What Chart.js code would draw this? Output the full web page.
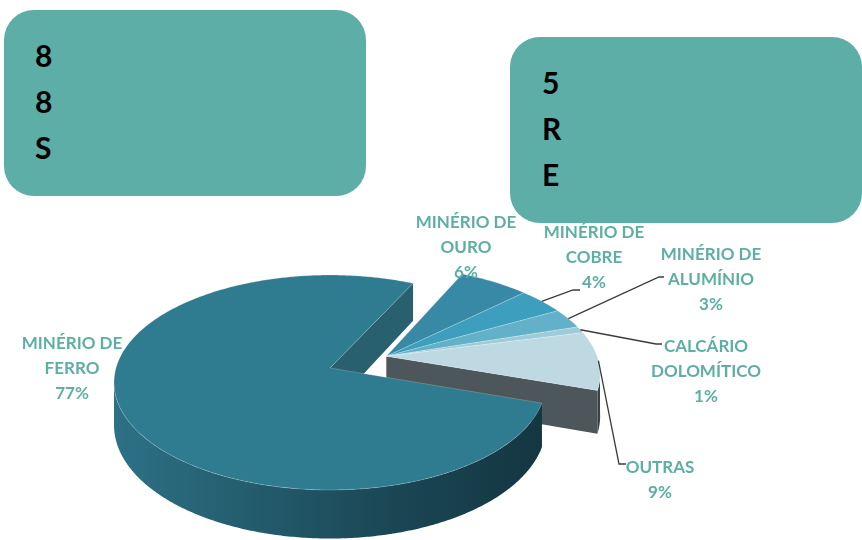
<!DOCTYPE html>
<html>
<head>
<meta charset="utf-8">
<script src="https://cdn.jsdelivr.net/npm/chart.js@4/dist/chart.umd.min.js"></script>
<style>
  html, body { margin: 0; padding: 0; background: #fff; overflow: hidden; }
  #wrap { position: relative; width: 862px; height: 540px; }
  #chart { position: absolute; left: 0; top: 0; }
  .box {
    position: absolute; background: #5daea7; border-radius: 30px; box-sizing: border-box;
    font-family: Lato, "Open Sans", sans-serif; font-weight: 700; font-size: 30px;
    line-height: 46px; color: #000;
  }
  #box1 { left: 4px; top: 10px; width: 362px; height: 186px; padding: 22px 0 0 31px; }
  #box2 { left: 510px; top: 37px; width: 352px; height: 186px; padding: 22px 0 0 32px; }
</style>
</head>
<body>
<div id="wrap">
  <canvas id="chart" width="862" height="540"></canvas>
  <div class="box" id="box1"><div>8</div><div>8</div><div>S</div></div>
  <div class="box" id="box2"><div>5</div><div>R</div><div>E</div></div>
</div>
<script>
// Production share by mineral substance (%)
const categories = [
  ['MINÉRIO DE', 'FERRO'],
  ['MINÉRIO DE', 'OURO'],
  ['MINÉRIO DE', 'COBRE'],
  ['MINÉRIO DE', 'ALUMÍNIO'],
  ['CALCÁRIO', 'DOLOMÍTICO'],
  ['OUTRAS']
];
const shares = [77, 6, 4, 3, 1, 9];

const topColors  = ['#2f7b8f', '#3789a5', '#3d9fbd', '#62b1c9', '#9ecbd9', '#bfd9e3'];
const faceColors = ['#29606f', '#2a6a80', '#2f7a92', '#4a8da1', '#6f98a5', '#4d565b'];
const wallColors = [
  ['#2d7186', '#235b6c', '#1a4553', '#143641'],
  ['#27637a', '#1b4656'],
  ['#2c7088', '#1d4b5b'],
  ['#417f93', '#2a5766'],
  ['#5e8795', '#3d5a64'],
  ['#454e53', '#3b4347']
];

// Tilted, extruded pie drawn from the arc elements computed by Chart.js
const pie3d = {
  id: 'pie3d',
  beforeDatasetsDraw(chart, args, o) {
    const arcs = chart.getDatasetMeta(0).data;
    if (!arcs.length) return false;
    const cx = arcs[0].x, cy = arcs[0].y, R = arcs[0].outerRadius;
    const P = (px, py, z) => {
      const s = 1 / (1 - o.persp * py / R);
      return [cx + px * s, cy + (o.tilt * py + z) * s];
    };
    const idx = arcs.map((a, i) => i);
    const grp = idx.filter(i => o.exploded[i]);
    let gx = 0, gy = 0;
    if (grp.length) {
      const mid = (arcs[grp[0]].startAngle + arcs[grp[grp.length - 1]].endAngle) / 2;
      gx = o.explode * Math.cos(mid);
      gy = o.explode * Math.sin(mid);
    }
    const offsets = idx.map(i => o.exploded[i] ? [gx, gy] : [0, 0]);
    chart.$pie3d = { P, R, offsets };

    const pieces = [
      { idx: idx.filter(i => !o.exploded[i]), dx: 0, dy: 0 },
      { idx: grp, dx: gx, dy: gy }
    ].filter(p => p.idx.length).sort((a, b) => a.dy - b.dy);

    const ctx = chart.ctx;
    const rim = (dx, dy, a, z) => P(dx + R * Math.cos(a), dy + R * Math.sin(a), z);
    const lo = Math.asin(o.persp), hi = Math.PI - lo;
    const TAU = Math.PI * 2;

    ctx.save();
    for (const pc of pieces) {
      const first = pc.idx[0], last = pc.idx[pc.idx.length - 1];
      const a0 = arcs[first].startAngle, a1 = arcs[last].endAngle;

      const face = (a, col) => {
        ctx.beginPath();
        ctx.moveTo(...P(pc.dx, pc.dy, 0));
        ctx.lineTo(...rim(pc.dx, pc.dy, a, 0));
        ctx.lineTo(...rim(pc.dx, pc.dy, a, o.depth));
        ctx.lineTo(...P(pc.dx, pc.dy, o.depth));
        ctx.closePath();
        ctx.fillStyle = col;
        ctx.fill();
      };
      if (Math.sin(a0 - Math.PI / 2) > 0) face(a0, o.faceColors[first]);
      if (Math.sin(a1 + Math.PI / 2) > 0) face(a1, o.faceColors[last]);

      // outer curved walls on the visible front half
      for (const i of pc.idx) {
        const s = arcs[i].startAngle, e = arcs[i].endAngle;
        for (let k = -1; k <= 2; k++) {
          const t0 = Math.max(s, lo + TAU * k), t1 = Math.min(e, hi + TAU * k);
          if (t1 <= t0) continue;
          const n = Math.max(2, Math.ceil((t1 - t0) / 0.01));
          ctx.beginPath();
          for (let j = 0; j <= n; j++) {
            const p = rim(pc.dx, pc.dy, t0 + (t1 - t0) * j / n, 0);
            j ? ctx.lineTo(...p) : ctx.moveTo(...p);
          }
          for (let j = n; j >= 0; j--) ctx.lineTo(...rim(pc.dx, pc.dy, t0 + (t1 - t0) * j / n, o.depth));
          ctx.closePath();
          const xl = rim(pc.dx, pc.dy, hi, 0)[0], xr = rim(pc.dx, pc.dy, lo, 0)[0];
          const g = ctx.createLinearGradient(xl, 0, xr, 0);
          const cols = o.wallColors[i];
          cols.forEach((c, j) => g.addColorStop(j / (cols.length - 1), c));
          ctx.fillStyle = g;
          ctx.fill();
        }
      }

      // top faces
      for (const i of pc.idx) {
        const s = arcs[i].startAngle, e = arcs[i].endAngle;
        const n = Math.max(2, Math.ceil((e - s) / 0.01));
        ctx.beginPath();
        ctx.moveTo(...P(pc.dx, pc.dy, 0));
        for (let j = 0; j <= n; j++) ctx.lineTo(...rim(pc.dx, pc.dy, s + (e - s) * j / n, 0));
        ctx.closePath();
        ctx.fillStyle = arcs[i].options.backgroundColor;
        ctx.fill();
        ctx.strokeStyle = o.edge;
        ctx.lineWidth = 0.8;
        ctx.stroke();
      }
    }
    ctx.restore();
    return false;
  }
};

// Category labels with percentages and leader lines
const sliceLabels = {
  id: 'sliceLabels',
  afterDraw(chart, args, o) {
    const g = chart.$pie3d;
    if (!g) return;
    const arcs = chart.getDatasetMeta(0).data;
    const ctx = chart.ctx;
    ctx.save();
    ctx.strokeStyle = o.lineColor;
    ctx.lineWidth = 1.3;
    ctx.fillStyle = o.color;
    ctx.font = o.font;
    ctx.textAlign = 'center';
    ctx.textBaseline = 'alphabetic';
    arcs.forEach((a, i) => {
      const spec = o.items[i];
      if (!spec) return;
      const [dx, dy] = g.offsets[i];
      if (spec.lead) {
        const mid = (a.startAngle + a.endAngle) / 2;
        const p = g.P(dx + g.R * Math.cos(mid), dy + g.R * Math.sin(mid), 0);
        ctx.beginPath();
        ctx.moveTo(p[0], p[1]);
        spec.lead.forEach(q => ctx.lineTo(q[0], q[1]));
        ctx.stroke();
      }
      const lines = [...chart.data.labels[i], chart.data.datasets[0].data[i] + '%'];
      lines.forEach((t, j) => ctx.fillText(t, spec.x, spec.y + j * o.lineHeight));
    });
    ctx.restore();
  }
};

new Chart(document.getElementById('chart'), {
  type: 'pie',
  data: {
    labels: categories,
    datasets: [{ data: shares, backgroundColor: topColors, borderWidth: 0 }]
  },
  options: {
    responsive: false,
    animation: false,
    devicePixelRatio: 1,
    rotation: 108.6,
    radius: 214,
    layout: { padding: { left: 0, right: 202, top: 196, bottom: 0 } },
    plugins: {
      legend: { display: false },
      tooltip: { enabled: false },
      pie3d: {
        tilt: 0.493, persp: 0.135, depth: 42, explode: 62,
        exploded: [false, true, true, true, true, true],
        faceColors, wallColors, edge: 'rgba(255,255,255,0.25)'
      },
      sliceLabels: {
        font: 'bold 17px Lato, "Open Sans", sans-serif',
        color: '#5dafa3', lineColor: '#3c3c3c', lineHeight: 25,
        items: [
          { x: 72, y: 349 },
          { x: 466, y: 228 },
          { x: 594, y: 238, lead: [[573, 290], [580, 290]] },
          { x: 711, y: 260, lead: [[659, 277], [664, 277]] },
          { x: 706, y: 352, lead: [[656, 344], [662, 344]] },
          { x: 660, y: 473, lead: [[619, 464], [626, 464]] }
        ]
      }
    }
  },
  plugins: [pie3d, sliceLabels]
});
</script>
</body>
</html>
